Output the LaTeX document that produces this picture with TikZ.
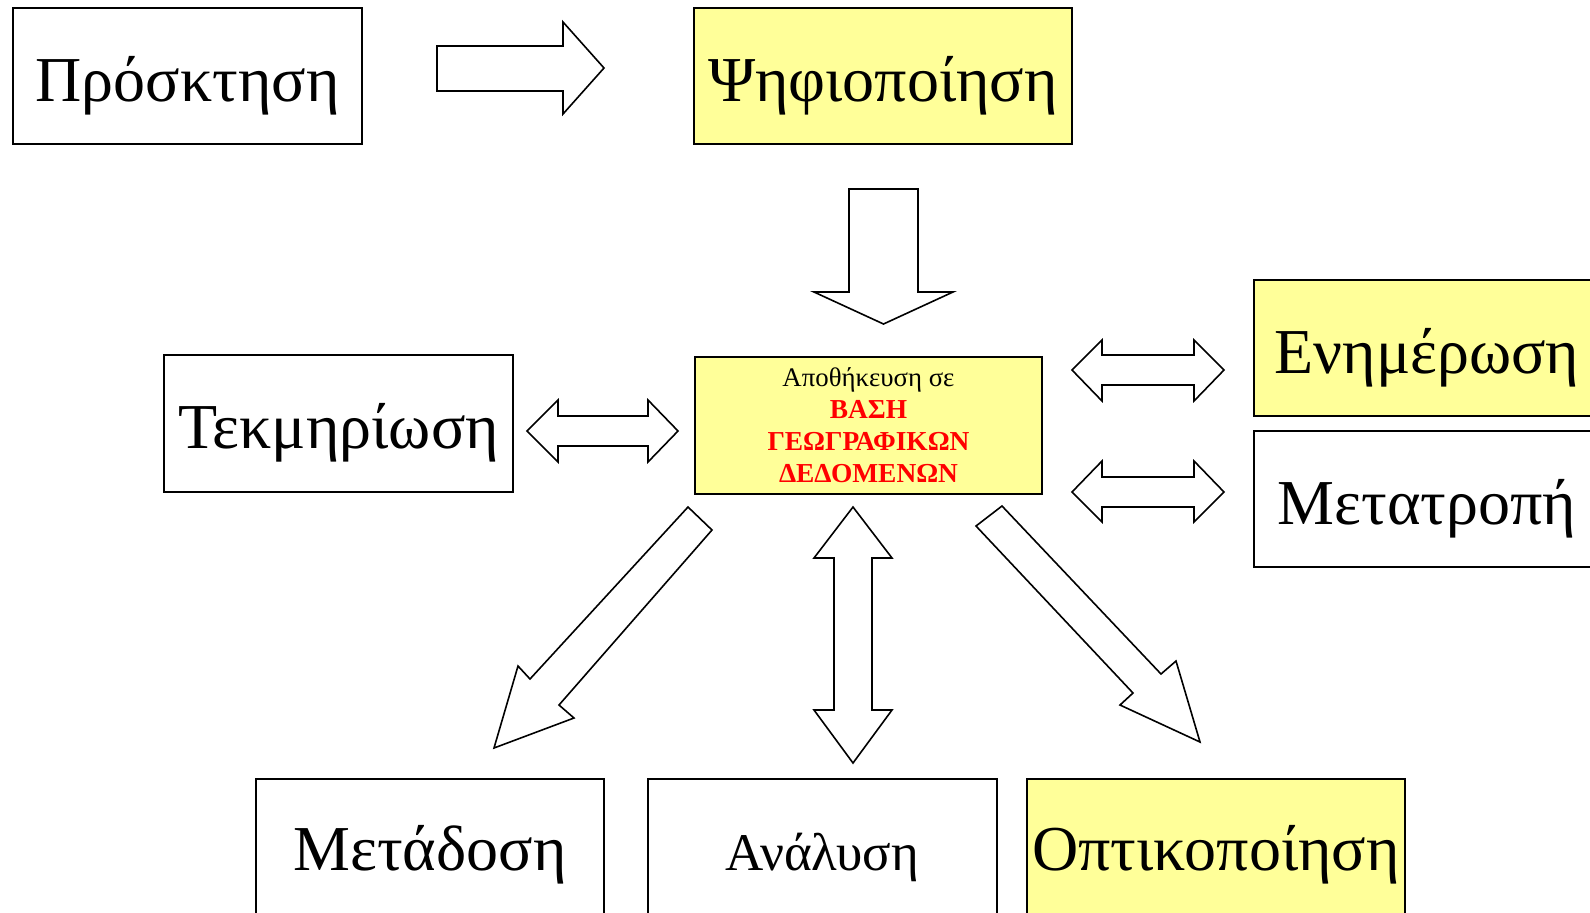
\documentclass[tikz,border=0pt]{standalone}
\usepackage{fontspec}
\setmainfont{Liberation Serif}
\begin{document}
\begin{tikzpicture}[x=0.5pt,y=-0.5pt,
  box/.style={draw=black,line width=1pt,inner sep=0pt,outer sep=0pt,font=\fontsize{32}{36}\selectfont,text height=27pt,text depth=2pt},
  botbox/.style={box,anchor=north,minimum height=80pt,text height=20pt,text depth=9pt},
  hl/.style={fill=hlyellow},
  blockarrow/.style={draw=black,fill=white,line width=0.8pt,line join=miter}]
\definecolor{hlyellow}{HTML}{FFFF99}
\definecolor{dbred}{HTML}{FF0000}
\useasboundingbox (0,0) rectangle (1590,912);
\clip (0,0) rectangle (1590,912);
% boxes
\node[box,minimum width=174.5pt,minimum height=68pt] (prosk) at (187.5,76) {Πρόσκτηση};
\node[box,hl,minimum width=189pt,minimum height=68pt] (psif) at (883,76) {Ψηφιοποίηση};
\node[box,minimum width=174.5pt,minimum height=68.5pt] (tekm) at (338.5,423.5) {Τεκμηρίωση};
\node[draw=black,line width=1pt,inner sep=0pt,outer sep=0pt,hl,minimum width=173.5pt,minimum height=68.5pt,align=center,font=\fontsize{13.4}{16}\selectfont] (db) at (868.5,425.5)
  {Αποθήκευση σε\\ {\color{dbred}\bfseries\fontsize{13.7}{16}\selectfont ΒΑΣΗ}\\ {\color{dbred}\bfseries\fontsize{13.7}{16}\selectfont ΓΕΩΓΡΑΦΙΚΩΝ}\\ {\color{dbred}\bfseries\fontsize{13.7}{16}\selectfont ΔΕΔΟΜΕΝΩΝ}};
\node[box,hl,minimum width=173pt,minimum height=68pt] (enim) at (1427,348) {Ενημέρωση};
\node[box,minimum width=173pt,minimum height=68pt] (metatr) at (1427,499) {Μετατροπή};
\node[botbox,minimum width=174pt] (metad) at (430,779) {Μετάδοση};
\node[botbox,minimum width=174.5pt,font=\fontsize{26.5}{30}\selectfont] (anal) at (822.5,779) {Ανάλυση};
\node[botbox,hl,minimum width=189pt] (optik) at (1216,779) {Οπτικοποίηση};
% right arrow prosk -> psif
\draw[blockarrow] (437,46) -- (563,46) -- (563,22) -- (604,68) -- (563,114) -- (563,91) -- (437,91) -- cycle;
% down arrow psif -> db
\draw[blockarrow] (849,189) -- (918,189) -- (918,292) -- (953,292) -- (883.5,324) -- (814,292) -- (849,292) -- cycle;
% double arrow tekm <-> db
\draw[blockarrow] (527,431) -- (558,400) -- (558,416) -- (648,416) -- (648,400) -- (678,431) -- (648,462) -- (648,446) -- (558,446) -- (558,462) -- cycle;
% double arrows db <-> enim, db <-> metatr
\draw[blockarrow] (1072,370) -- (1102,340) -- (1102,355) -- (1194,355) -- (1194,340) -- (1224,370) -- (1194,401) -- (1194,385) -- (1102,385) -- (1102,401) -- cycle;
\draw[blockarrow] (1072,492) -- (1102,461) -- (1102,477) -- (1194,477) -- (1194,461) -- (1224,492) -- (1194,522) -- (1194,507) -- (1102,507) -- (1102,522) -- cycle;
% vertical double arrow db <-> anal
\draw[blockarrow] (853,507) -- (892,558) -- (872,558) -- (872,710) -- (892,710) -- (853,763) -- (814,710) -- (834,710) -- (834,558) -- (814,558) -- cycle;
% diagonal arrow db -> metad
\draw[blockarrow] (688,507) -- (712,530) -- (559,705) -- (574,718) -- (494,748) -- (518,666) -- (530,679) -- cycle;
% diagonal arrow db -> optik
\draw[blockarrow] (1002,506) -- (1161,674) -- (1176,661) -- (1200,742) -- (1120,705) -- (1133,693) -- (976,526) -- cycle;
\end{tikzpicture}
\end{document}
